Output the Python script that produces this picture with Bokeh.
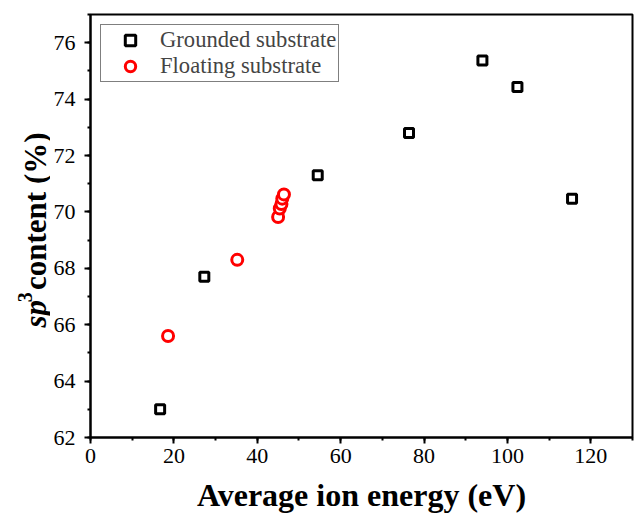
import math
from bokeh.plotting import figure
from bokeh.layouts import row
from bokeh.models import Range1d, Legend, SingleIntervalTicker
from bokeh.core.properties import value
from bokeh.embed import file_html
from bokeh.resources import INLINE

# Data
grounded_energy = [16.7, 27.3, 54.5, 76.4, 94.0, 102.4, 115.5]
grounded_sp3 = [63.0, 67.7, 71.3, 72.8, 75.37, 74.43, 70.47]
floating_energy = [18.6, 35.2, 45.0, 45.4, 45.8, 46.0, 46.4]
floating_sp3 = [65.6, 68.3, 69.82, 70.12, 70.28, 70.47, 70.62]

FONT = "Liberation Serif"
LEFT_W = 50

p = figure(width=635 - LEFT_W, height=519, output_backend="svg", toolbar_location=None,
           x_range=Range1d(0, 130), y_range=Range1d(62, 77),
           min_border_left=90 - LEFT_W, min_border_right=3, min_border_top=14,
           min_border_bottom=82)
p.background_fill_color = "white"
p.border_fill_color = "white"
p.xgrid.visible = False
p.ygrid.visible = False
p.outline_line_color = "black"
p.outline_line_width = 2

p.xaxis[0].ticker = SingleIntervalTicker(interval=20, num_minor_ticks=2)
p.yaxis[0].ticker = SingleIntervalTicker(interval=2, num_minor_ticks=2)

for axes in (p.xaxis, p.yaxis):
    axes.axis_line_width = 2
    axes.axis_line_color = "black"
    axes.major_tick_line_width = 2
    axes.minor_tick_line_width = 2
    axes.major_tick_line_color = "black"
    axes.minor_tick_line_color = "black"
    axes.major_tick_in = 0
    axes.major_tick_out = 6
    axes.minor_tick_in = 0
    axes.minor_tick_out = 3
    axes.major_label_text_font = FONT
    axes.major_label_text_font_size = "22px"
    axes.major_label_text_color = "black"

p.xaxis.major_label_standoff = 5
p.yaxis.major_label_standoff = 9

p.xaxis.axis_label = "Average ion energy (eV)"
p.xaxis.axis_label_text_font = FONT
p.xaxis.axis_label_text_font_style = "bold"
p.xaxis.axis_label_text_font_size = "32px"
p.xaxis.axis_label_text_color = "black"
p.xaxis.axis_label_standoff = 11

r1 = p.scatter(grounded_energy, grounded_sp3, marker="square", size=9,
               fill_color="white", line_color="black", line_width=3)
r2 = p.scatter(floating_energy, floating_sp3, marker="circle", size=11,
               fill_color="white", line_color="red", line_width=3)

legend = Legend(items=[("Grounded substrate", [r1]), ("Floating substrate", [r2])],
                location="top_left", margin=10, padding=2, spacing=0,
                glyph_width=54, glyph_height=26, label_height=24, label_standoff=3,
                label_text_font=FONT, label_text_font_size="22.6px",
                border_line_color="black", border_line_width=1,
                background_fill_color="white", background_fill_alpha=1)
p.add_layout(legend)

# Narrow panel on the left holding the composed y-axis title (pixel coordinates)
q = figure(width=LEFT_W, height=519, output_backend="svg", toolbar_location=None,
           x_range=Range1d(0, LEFT_W), y_range=Range1d(0, 519),
           x_axis_type=None, y_axis_type=None, title=None,
           min_border_left=0, min_border_right=0, min_border_top=0, min_border_bottom=0)
q.xgrid.visible = False
q.ygrid.visible = False
q.outline_line_color = None
q.background_fill_color = "white"
q.border_fill_color = "white"

ylabel_parts = ["sp", "3", "content (%)"]
ylabel_styles = ["bold italic", "bold", "bold"]
ylabel_sizes = ["31px", "20px", "31px"]
ylabel_x = [35, 24, 35]
ylabel_y = [135, 166, 181]
for t, st, sz, xx, yy in zip(ylabel_parts, ylabel_styles, ylabel_sizes, ylabel_x, ylabel_y):
    q.text(x=[xx], y=[yy], text=[t], angle=math.pi / 2, text_font=value(FONT),
           text_font_style=st, text_font_size=sz, text_color="black",
           text_align="left", text_baseline="alphabetic")

layout = row(q, p, spacing=0)
open("out.html", "w").write(file_html(layout, INLINE))
